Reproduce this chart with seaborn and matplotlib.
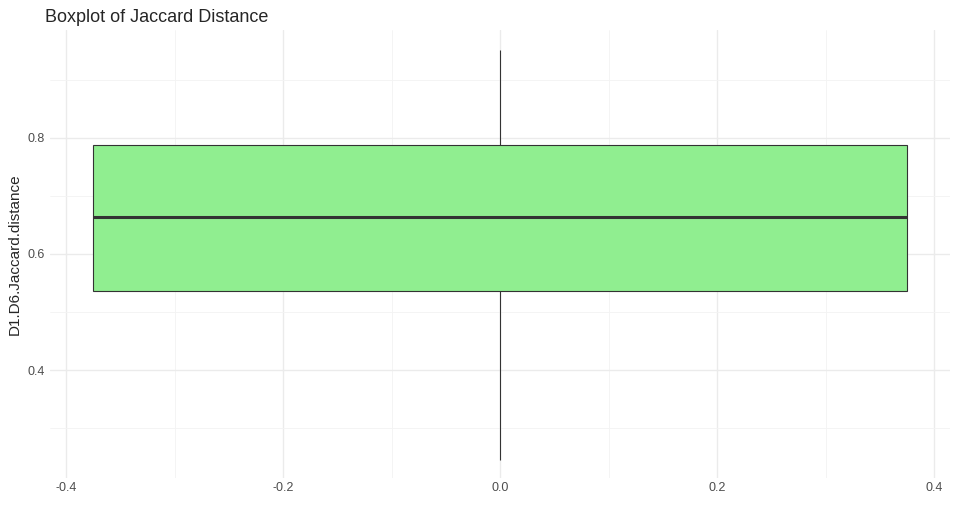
import matplotlib
matplotlib.use("Agg")
import matplotlib.pyplot as plt
import numpy as np
import seaborn as sns
from matplotlib.ticker import MultipleLocator

# Jaccard distances (five-number summary)
jaccard_distance = [0.246, 0.537, 0.663, 0.788, 0.951]

sns.set_style("white")
plt.rcParams["font.family"] = ["Liberation Sans", "DejaVu Sans"]

fig, ax = plt.subplots(figsize=(9.6, 5.08), dpi=100)
fig.subplots_adjust(left=0.052, right=0.99, top=0.94, bottom=0.06)

sns.boxplot(
    y=jaccard_distance, ax=ax, color="#90EE90", width=0.75, saturation=1,
    linecolor="#333333", linewidth=0.8,
    medianprops={"linewidth": 2.2, "color": "#333333"},
    capprops={"linewidth": 0},
    whiskerprops={"color": "#333333", "linewidth": 0.8},
)

ax.set_xlim(-0.415, 0.415)
ax.set_ylim(0.215, 0.985)
ax.xaxis.set_major_locator(MultipleLocator(0.2))
ax.xaxis.set_minor_locator(MultipleLocator(0.1))
ax.yaxis.set_major_locator(MultipleLocator(0.2))
ax.yaxis.set_minor_locator(MultipleLocator(0.1))
ax.set_xticklabels([f"{v:.1f}" for v in ax.get_xticks()])
ax.grid(which="major", color="#EBEBEB", linewidth=1.0)
ax.grid(which="minor", color="#F3F3F3", linewidth=0.6)
ax.set_axisbelow(True)
for s in ax.spines.values():
    s.set_visible(False)
ax.tick_params(which="both", length=0, labelsize=9, colors="#4D4D4D")

ax.set_ylabel("D1.D6.Jaccard.distance", fontsize=11)
ax.set_xlabel("")
ax.set_title("Boxplot of Jaccard Distance", loc="left", fontsize=13, x=-0.005)

fig.savefig("out.png")
